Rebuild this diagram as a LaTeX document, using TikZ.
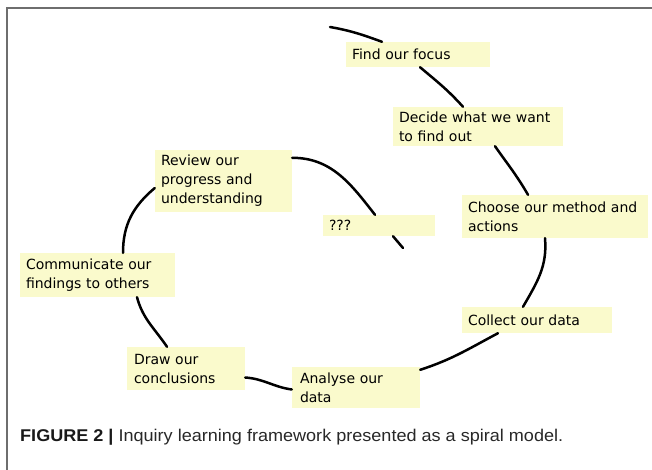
\documentclass[tikz,border=0pt]{standalone}
\usepackage{fontspec}
\usepackage{graphicx}
\newfontfamily\boxfont{DejaVu Sans}
\newfontfamily\capfont{Liberation Sans}
\definecolor{notefill}{RGB}{250,250,204}
\definecolor{framegray}{RGB}{110,110,110}
\definecolor{captxt}{RGB}{40,40,40}
\tikzset{
  note/.style={fill=notefill, draw=none, inner xsep=6pt, inner ysep=0pt, align=left,
    font=\boxfont\fontsize{14pt}{19pt}\selectfont, text=black},
  spiral/.style={draw=black, line width=2.5pt, line cap=round},
  framing/.style={draw=framegray, line width=1.6pt}
}
\begin{document}
\begin{tikzpicture}[x=1pt,y=1pt]
\useasboundingbox (0,0) rectangle (652,-470);
\fill[white] (0,0) rectangle (652,-470);
% frame
\coordinate (ftl) at (7,-8);
\coordinate (ftr) at (652,-8);
\coordinate (fbl) at (7,-470);
\draw[framing] (ftr) -- (ftl) -- (fbl);
% free ends of the spiral
\coordinate (outer) at (330,-27);
\coordinate (inner) at (403,-248);
% notes
\node[note, text width=132pt, minimum height=25pt] (find) at (418,-54.5) {Find our focus};
\node[note, text width=158pt, minimum height=39pt] (decide) at (478,-126.5) {Decide what we want\\to find out};
\node[note, text width=125pt, minimum height=62pt] (review) at (223.5,-181) {Review our\\progress and\\understanding};
\node[note, text width=100pt, minimum height=21pt] (qqq) at (379,-225.5) {???};
\node[note, text width=174pt, minimum height=43pt] (choose) at (555,-216.5) {Choose our method and\\actions};
\node[note, text width=143pt, minimum height=44pt, inner xsep=6pt] (comm) at (97.5,-275) {Communicate our\\findings to others};
\node[note, text width=138pt, minimum height=26pt] (collect) at (537,-320) {Collect our data};
\node[note, text width=104pt, minimum height=43pt, inner xsep=7pt] (draw) at (186,-368.5) {Draw our\\conclusions};
\node[note, text width=112pt, minimum height=41pt, inner xsep=8pt] (analyse) at (356,-387.5) {Analyse our\\data};
% spiral connectors
\draw[spiral] (outer) to[out=-10, in=160] ([xshift=-36pt]find.north);
\draw[spiral] ([xshift=2pt]find.south) to[out=-40, in=132] ([xshift=-15pt]decide.north);
\draw[spiral] ([xshift=17pt]decide.south) to[out=-55, in=120] ([xshift=-27pt]choose.north);
\draw[spiral] ([xshift=-10pt]choose.south) to[out=-85, in=60] ([xshift=-14pt]collect.north);
\draw[spiral] ([xshift=-39pt]collect.south) to[out=208, in=18] ([yshift=-3pt]analyse.north east);
\draw[spiral] ([yshift=-2pt]analyse.west) to[out=172, in=-4] ([yshift=-9pt]draw.east);
\draw[spiral] ([xshift=-19pt]draw.north) to[out=124, in=-75] ([xshift=39.5pt]comm.south);
\draw[spiral] ([xshift=25.5pt]comm.north) to[out=90, in=-140] ([yshift=-7pt]review.west);
\draw[spiral] ([yshift=-8pt]review.north east) to[out=0, in=128] ([xshift=-4pt]qqq.north);
\draw[spiral] ([xshift=14pt]qqq.south) -- (inner);
% caption
\node[anchor=base west, inner sep=0pt, text=captxt] (caption) at (20,-441)
  {\resizebox{543pt}{\height}{\capfont\fontsize{17pt}{20pt}\selectfont\textbf{\color{black!90}FIGURE 2 |} Inquiry learning framework presented as a spiral model.}};
\end{tikzpicture}
\end{document}
